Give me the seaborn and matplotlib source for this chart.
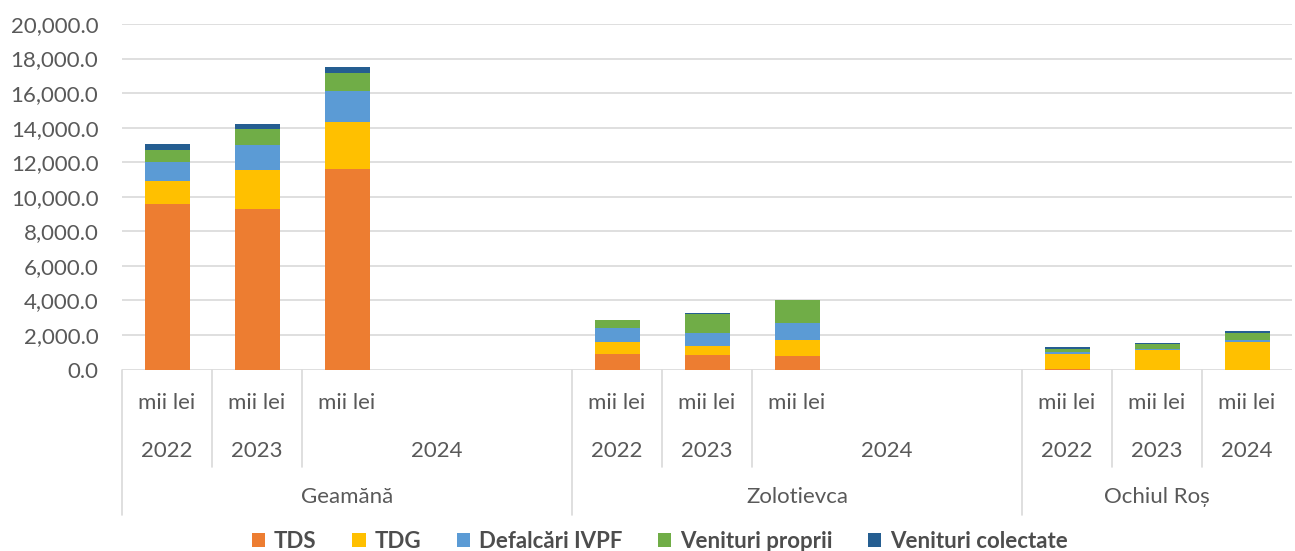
import matplotlib
matplotlib.use("Agg")
import matplotlib.pyplot as plt
import matplotlib.transforms as mtransforms
from matplotlib.patches import Patch
import seaborn as sns
import pandas as pd
import numpy as np

# ---- data ----
groups = ["Geamănă", "Zolotievca", "Ochiul Roș"]
years = ["2022", "2023", "2024"]
unit = "mii lei"
series = ["TDS", "TDG", "Defalcări IVPF", "Venituri proprii", "Venituri colectate"]
colors = ["#ED7D31", "#FFC000", "#5B9BD5", "#70AD47", "#255E91"]

# values per group, per year (2022, 2023, 2024)
tds = {"Geamănă": [9600, 9310, 11590], "Zolotievca": [905, 850, 810], "Ochiul Roș": [15, 0, 0]}
tdg = {"Geamănă": [1330, 2220, 2760], "Zolotievca": [685, 485, 915], "Ochiul Roș": [910, 1100, 1585]}
ivpf = {"Geamănă": [1085, 1450, 1755], "Zolotievca": [820, 800, 995], "Ochiul Roș": [75, 115, 120]}
proprii = {"Geamănă": [675, 960, 1080], "Zolotievca": [445, 1070, 1305], "Ochiul Roș": [200, 235, 395]}
colectate = {"Geamănă": [350, 290, 330], "Zolotievca": [10, 85, 20], "Ochiul Roș": [75, 100, 135]}

# empty trailing slots per group (as in the source workbook)
empty_slots = {"Geamănă": 2, "Zolotievca": 2, "Ochiul Roș": 0}

# ---- build table ----
order = []
rows = []
for g in groups:
    for i, y in enumerate(years):
        key = f"{g}|{y}"
        order.append(key)
        rows.append({"cat": key, "TDS": tds[g][i], "TDG": tdg[g][i],
                     "Defalcări IVPF": ivpf[g][i], "Venituri proprii": proprii[g][i],
                     "Venituri colectate": colectate[g][i]})
    for k in range(empty_slots[g]):
        order.append(f"{g}|empty{k}")
df = pd.DataFrame(rows)
cum = df[series].cumsum(axis=1)

# ---- figure ----
sns.set_theme(style="white")
plt.rcParams["font.family"] = ["Lato", "DejaVu Sans"]
fig = plt.figure(figsize=(12.95, 5.51), dpi=100)
ax = fig.add_axes([122 / 1295, 1 - 369.5 / 551, 1170 / 1295, 345.5 / 551])

for s, c in reversed(list(zip(series, colors))):
    sns.barplot(x=df["cat"], y=cum[s], order=order, color=c, width=0.5,
                saturation=1, ax=ax, linewidth=0, errorbar=None)

ax.set_ylim(0, 20000)
ax.set_xlim(-0.5, len(order) - 0.5)
ax.set_yticks(np.arange(0, 20001, 2000))
ax.set_yticklabels([f"{v:,.1f}" for v in np.arange(0, 20001, 2000)],
                   fontsize=16, color="#595959")
ax.tick_params(axis="y", length=0, pad=17)
ax.set_xticks([])
ax.set_xlabel("")
ax.set_ylabel("")
ax.grid(axis="y", color="#D9D9D9", linewidth=1.2)
ax.set_axisbelow(True)
for sp in ax.spines.values():
    sp.set_visible(False)

# ---- multi-level category axis ----
trans = mtransforms.blended_transform_factory(ax.transData, ax.transAxes)
lc = "#D9D9D9"
txt = dict(transform=trans, ha="center", va="center", fontsize=16, color="#595959")
y_unit, y_year, y_group = -0.097, -0.236, -0.369
y_sep_year, y_sep_group = -0.282, -0.421

pos = 0
for gi, g in enumerate(groups):
    start = pos
    n = len(years) + empty_slots[g]
    # group boundary (left)
    ax.plot([start - 0.5, start - 0.5], [0, y_sep_group], color=lc, lw=1.2,
            transform=trans, clip_on=False)
    for i, y in enumerate(years):
        idx = start + i
        ax.text(idx, y_unit, unit, **txt)
        if i < len(years) - 1:
            ax.text(idx, y_year, y, **txt)
            ax.plot([idx + 0.5, idx + 0.5], [0, y_sep_year], color=lc, lw=1.2,
                    transform=trans, clip_on=False)
        else:
            span_end = start + n - 1
            ax.text((idx + span_end) / 2, y_year, y, **txt)
    ax.text(start + (n - 1) / 2, y_group, g, **txt)
    pos += n

# ---- legend ----
handles = [Patch(facecolor=c, edgecolor="none") for c in colors]
leg = fig.legend(handles, series, loc="center", ncol=5,
                 bbox_to_anchor=(660 / 1295, 1 - 541 / 551), frameon=False,
                 prop={"size": 16, "weight": "bold"}, handlelength=0.6,
                 handleheight=0.6, handletextpad=0.4, columnspacing=1.6,
                 borderaxespad=0)
for t in leg.get_texts():
    t.set_color("#4D4D4D")

fig.savefig("out.png", dpi=100)
